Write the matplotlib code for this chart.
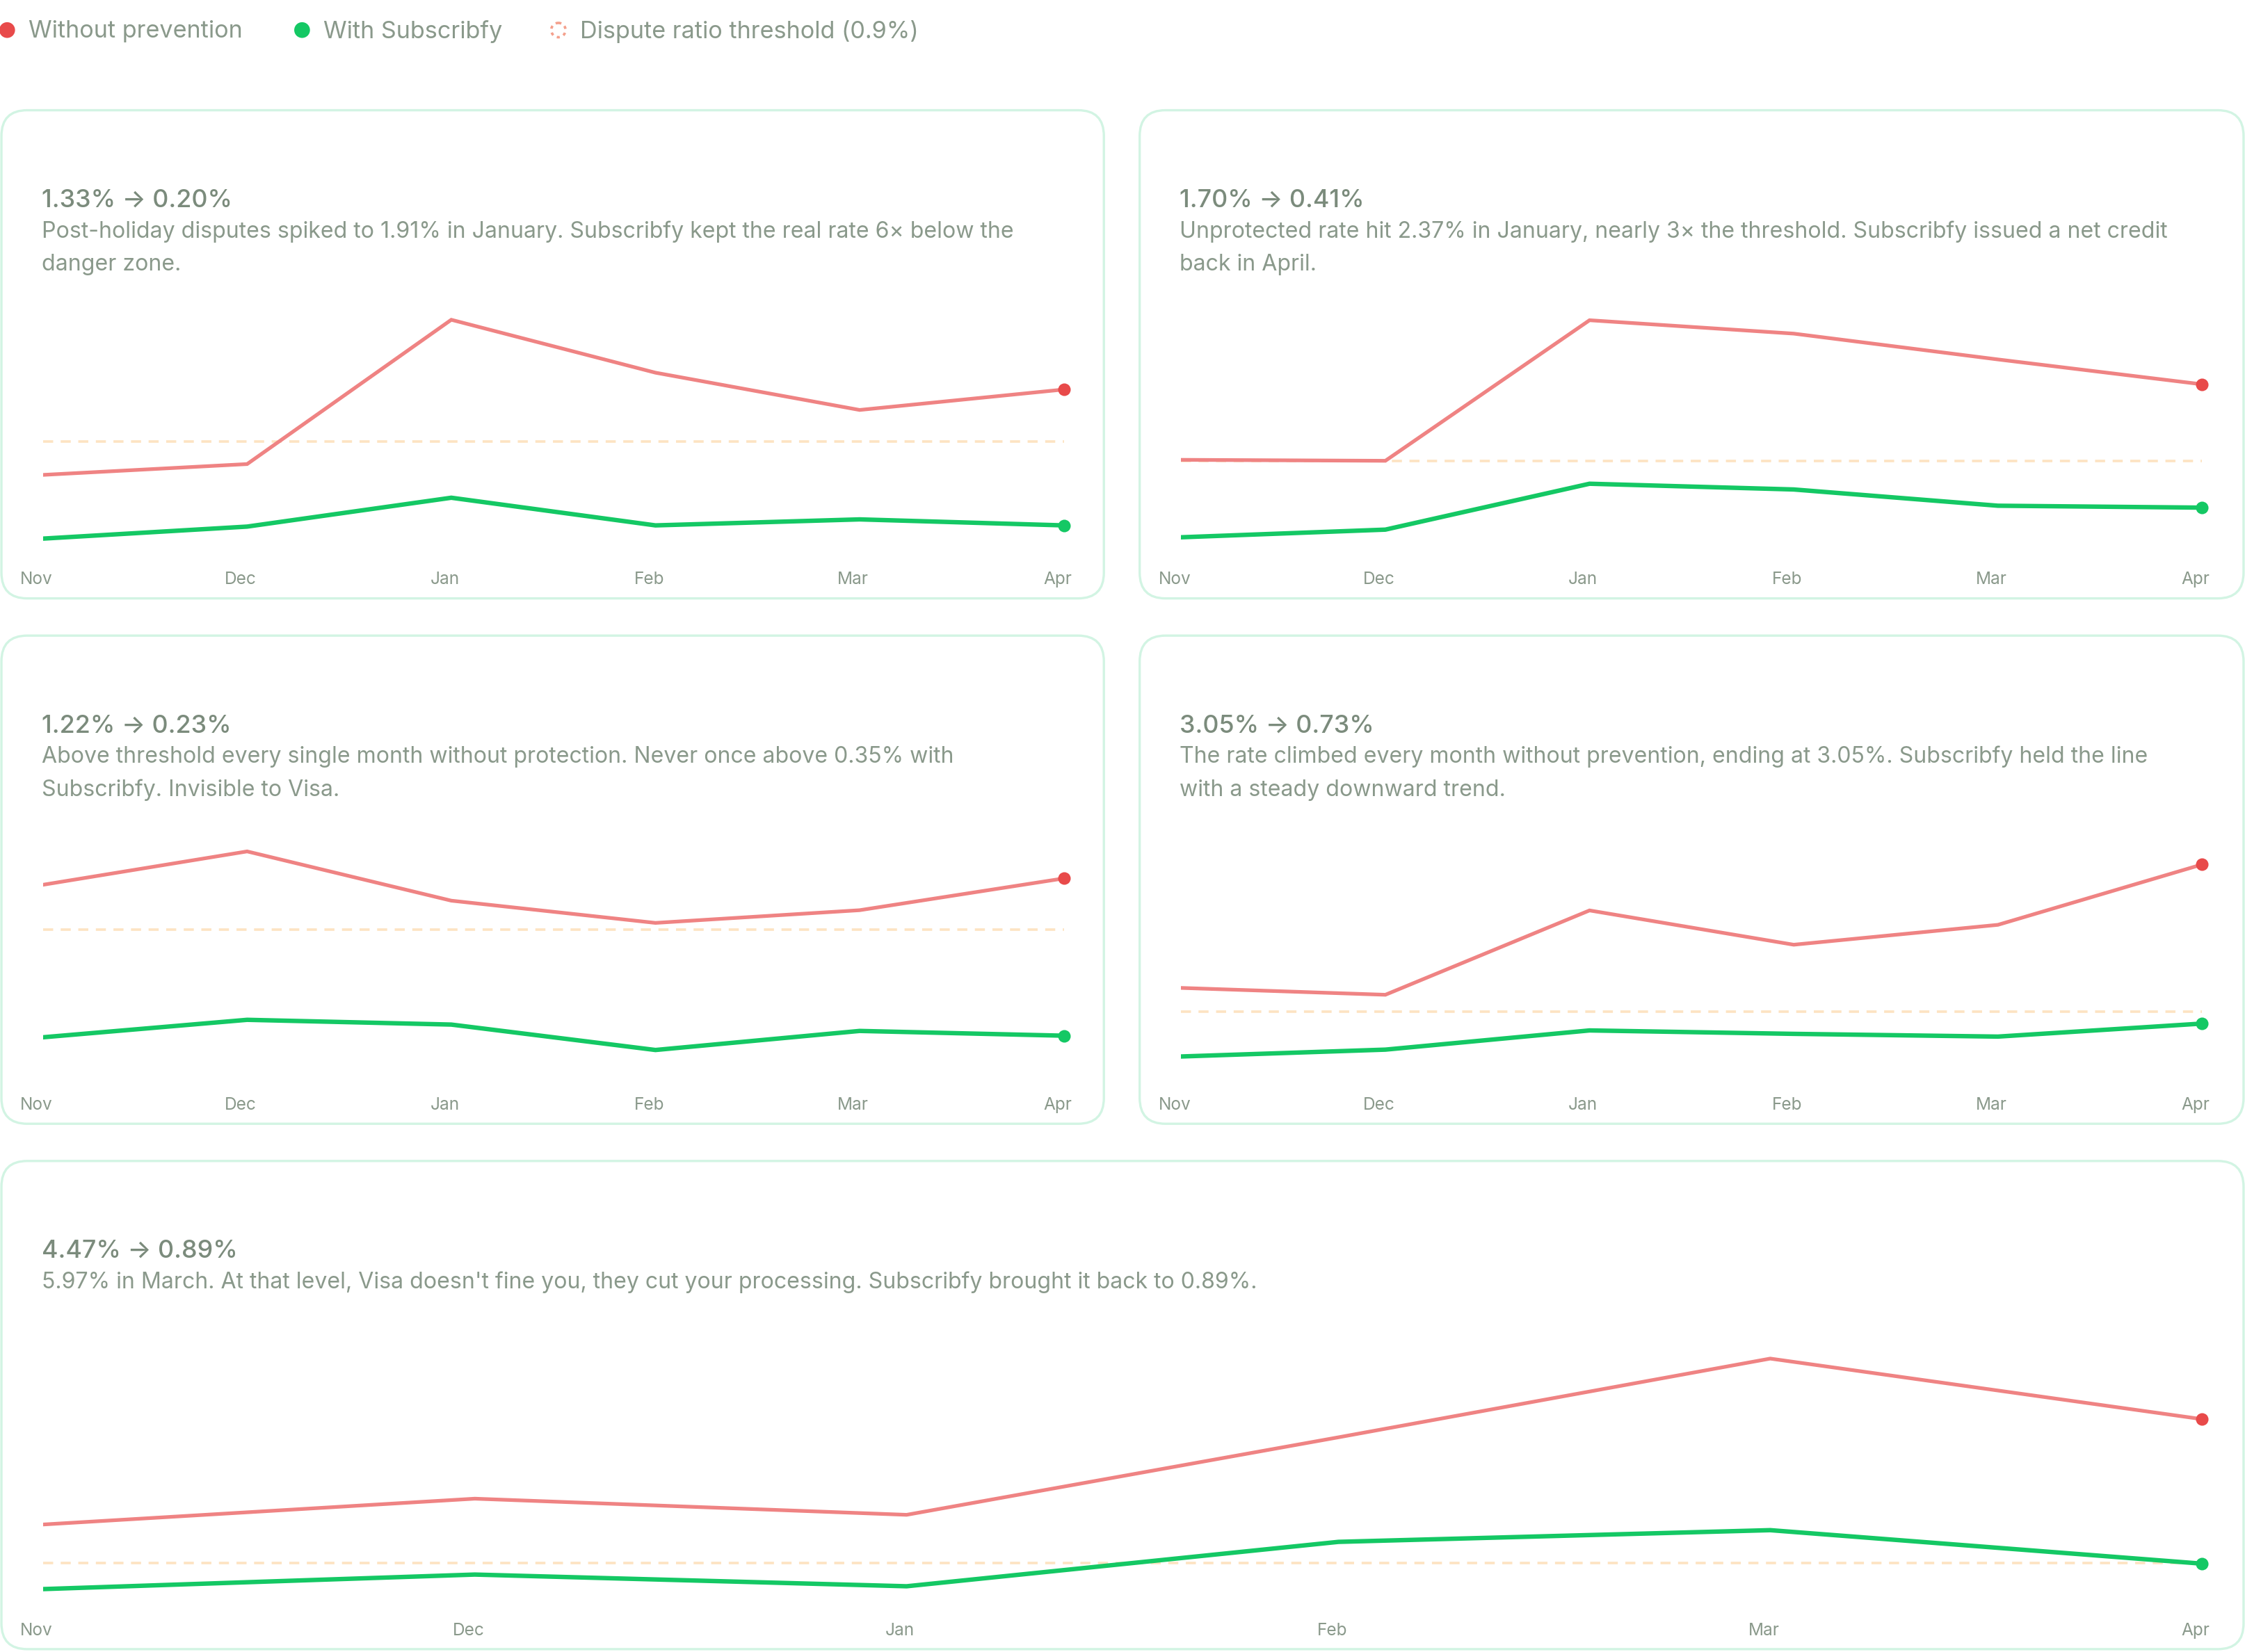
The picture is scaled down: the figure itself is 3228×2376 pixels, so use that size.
import matplotlib
matplotlib.use("Agg")
import matplotlib.pyplot as plt
from matplotlib.patches import FancyBboxPatch, Circle
from matplotlib.transforms import ScaledTranslation

plt.rcParams['font.family'] = ['Inter', 'DejaVu Sans']

# ---------------- data ----------------
months = ['Nov', 'Dec', 'Jan', 'Feb', 'Mar', 'Apr']
threshold = 0.9

titles = ['Dossier Perfumes', 'Ara Luisa', 'Glo Melanin', 'Tres Color Jewelry', 'Rose Forever']

dossier_without = [0.62, 0.71, 1.91, 1.47, 1.16, 1.33]
dossier_with = [0.09, 0.19, 0.43, 0.20, 0.25, 0.20]
ara_without = [0.91, 0.90, 2.37, 2.23, 1.96, 1.70]
ara_with = [0.10, 0.18, 0.66, 0.60, 0.43, 0.41]
glo_without = [1.18, 1.39, 1.08, 0.94, 1.02, 1.22]
glo_with = [0.22, 0.33, 0.30, 0.14, 0.26, 0.23]
tres_without = [1.25, 1.15, 2.38, 1.88, 2.17, 3.05]
tres_with = [0.25, 0.35, 0.63, 0.58, 0.54, 0.73]
rose_without = [1.86, 2.50, 2.10, 4.02, 5.97, 4.47]
rose_with = [0.26, 0.62, 0.33, 1.43, 1.72, 0.89]

descriptions = [
    "Post-holiday disputes spiked to 1.91% in January. Subscribfy kept the real rate 6\u00d7 below the\ndanger zone.",
    "Unprotected rate hit 2.37% in January, nearly 3\u00d7 the threshold. Subscribfy issued a net credit\nback in April.",
    "Above threshold every single month without protection. Never once above 0.35% with\nSubscribfy. Invisible to Visa.",
    "The rate climbed every month without prevention, ending at 3.05%. Subscribfy held the line\nwith a steady downward trend.",
    "5.97% in March. At that level, Visa doesn't fine you, they cut your processing. Subscribfy brought it back to 0.89%.",
]

legend_labels = ['Without prevention', 'With Subscribfy', 'Dispute ratio threshold (0.9%)']

series_without = [dossier_without, ara_without, glo_without, tres_without, rose_without]
series_with = [dossier_with, ara_with, glo_with, tres_with, rose_with]

# ---------------- style ----------------
RED_LINE = '#ef8383'
RED_DOT = '#e84a4a'
GREEN = '#14c864'
THRESH = '#fde3c2'
TEXT = '#8a998b'
HEAD = '#7b8b7c'
BORDER = '#d2f4e3'

W, H = 1568.0, 1154.0  # layout units (scaled reference)
fig = plt.figure(figsize=(16.14, 11.88), dpi=200)
fig.patch.set_facecolor('white')

bg = fig.add_axes([0, 0, 1, 1], zorder=0)
bg.set_xlim(0, W)
bg.set_ylim(H, 0)
bg.axis('off')

# card layout: (x0, y0, x1, y1), chart x-extent, ylim
cards = [
    dict(box=(1, 77, 771, 418), px=(30, 743), ylim=(-0.038, 2.105)),
    dict(box=(796, 77, 1567, 418), px=(825, 1538), ylim=(-0.075, 2.62)),
    dict(box=(1, 444, 771, 785), px=(30, 743), ylim=(-0.045, 1.577)),
    dict(box=(796, 444, 1567, 785), px=(825, 1538), ylim=(-0.084, 3.674)),
    dict(box=(1, 811, 1567, 1152), px=(30, 1538), ylim=(-0.128, 6.255)),
]

# legend
lx = [5, 211, 390]
for i, (x, lab) in enumerate(zip(lx, legend_labels)):
    if i == 0:
        bg.add_patch(Circle((x, 21), 5.5, color=RED_DOT, lw=0))
    elif i == 1:
        bg.add_patch(Circle((x, 21), 5.5, color=GREEN, lw=0))
    else:
        bg.add_patch(Circle((x, 21), 5.0, facecolor='none', edgecolor='#f4a08c',
                            lw=1.3, linestyle=(0, (1.2, 1.6))))
    bg.text(x + 15, 22, lab, fontsize=12.3, color=TEXT, va='center', ha='left')

px_to_in = 3228 / W / 200.0

for k, c in enumerate(cards):
    x0, y0, x1, y1 = c['box']
    bg.add_patch(FancyBboxPatch((x0, y0), x1 - x0, y1 - y0,
                                boxstyle='round,pad=0,rounding_size=18',
                                facecolor='white', edgecolor=BORDER, lw=1.2))
    bg.text(x0 + 34, y0 + 37, titles[k], fontsize=14, color='white', va='center', ha='left')
    wo = series_without[k]
    wi = series_with[k]
    bg.text(x0 + 28, y0 + 63, f"{wo[-1]:.2f}% \u2192 {wi[-1]:.2f}%", fontsize=12.9,
            color=HEAD, va='center', ha='left', fontweight='medium')
    bg.text(x0 + 28, y0 + 77, descriptions[k], fontsize=11.55, color=TEXT,
            va='top', ha='left', linespacing=1.7)

    pxa, pxb = c['px']
    top = y0 + 130
    bot = y0 + 310
    ax = fig.add_axes([pxa / W, 1 - bot / H, (pxb - pxa) / W, (bot - top) / H], zorder=2)
    ax.patch.set_alpha(0)
    for s in ax.spines.values():
        s.set_visible(False)
    xs = list(range(len(months)))
    ax.axhline(threshold, color=THRESH, lw=1.3, dashes=(4, 3), zorder=1)
    ax.plot(xs, wo, color=RED_LINE, lw=1.9, zorder=3, solid_joinstyle='miter')
    ax.plot(xs, wi, color=GREEN, lw=2.3, zorder=4, solid_joinstyle='miter')
    ax.plot(xs[-1], wo[-1], 'o', color=RED_DOT, ms=6.5, mec='white', mew=0, zorder=5, clip_on=False)
    ax.plot(xs[-1], wi[-1], 'o', color=GREEN, ms=6.5, mec='white', mew=0, zorder=5, clip_on=False)
    ax.set_xlim(0, len(months) - 1)
    ax.set_ylim(*c['ylim'])
    ax.set_yticks([])
    ax.set_xticks(xs, months)
    ax.tick_params(axis='x', length=0, pad=9.2, labelsize=8.8, labelcolor=TEXT)
    off = ScaledTranslation(-4.5 * px_to_in, 0, fig.dpi_scale_trans)
    for lab in ax.get_xticklabels():
        lab.set_transform(lab.get_transform() + off)

fig.savefig('out.png', dpi=200, facecolor='white')
